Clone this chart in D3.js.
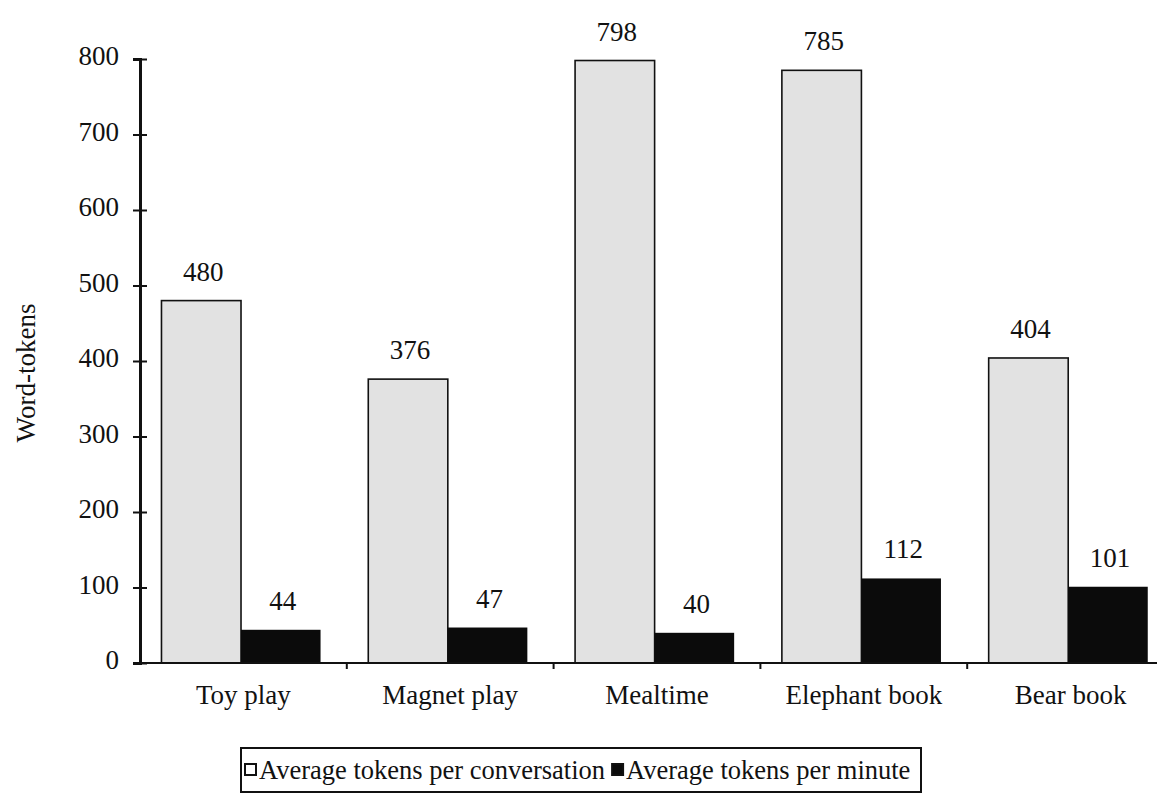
<!DOCTYPE html>
<head>
  <meta charset="utf-8">
  <script src="https://d3js.org/d3.v7.min.js"></script>
  <style>
    body { margin:0; background:#fff; }
    text { font-family: "Liberation Serif", "Times New Roman", serif; fill:#111; }
  </style>
</head>
<body>
<script>
  var width = 1157;
  var height = 794;

  // data
  var categories = ["Toy play", "Magnet play", "Mealtime", "Elephant book", "Bear book"];
  var seriesNames = ["Average tokens per conversation", "Average tokens per minute"];
  var perConversation = [480, 376, 798, 785, 404];
  var perMinute = [44, 47, 40, 112, 101];
  var yTicks = [0, 100, 200, 300, 400, 500, 600, 700, 800];

  var fills = ["#e2e2e2", "#0b0b0b"];

  var svg = d3.select("body").append("svg")
    .attr("width", width)
    .attr("height", height);

  var axisX = 140;
  var step = 206.8;

  var x0 = d3.scaleBand()
    .domain(categories)
    .range([axisX, axisX + step * categories.length]);

  var x1 = d3.scaleBand()
    .domain(seriesNames)
    .range([0, x0.bandwidth()])
    .paddingInner(0)
    .paddingOuter(0.3)
    .align(0.45);

  var y = d3.scaleLinear()
    .domain([0, 800])
    .range([663, 59]);

  var rows = categories.map(function(c, i){
    return { cat: c, vals: [perConversation[i], perMinute[i]] };
  });

  // bars
  var groups = svg.selectAll(".grp")
    .data(rows)
    .enter()
    .append("g")
    .attr("class", "grp")
    .attr("transform", function(d){ return "translate(" + x0(d.cat) + ",0)"; });

  groups.selectAll("rect")
    .data(function(d){ return d.vals.map(function(v, j){ return { name: seriesNames[j], v: v, j: j }; }); })
    .enter()
    .append("rect")
    .attr("x", function(d){ return x1(d.name); })
    .attr("y", function(d){ return y(d.v); })
    .attr("width", x1.bandwidth())
    .attr("height", function(d){ return y(0) - y(d.v); })
    .attr("fill", function(d){ return fills[d.j]; })
    .attr("stroke", function(d){ return d.j === 0 ? "#111" : "none"; })
    .attr("stroke-width", 1.6);

  groups.selectAll(".val")
    .data(function(d){ return d.vals.map(function(v, j){ return { name: seriesNames[j], v: v }; }); })
    .enter()
    .append("text")
    .attr("class", "val")
    .attr("x", function(d){ return x1(d.name) + x1.bandwidth() / 2 + 2; })
    .attr("y", function(d){ return y(d.v) - 20; })
    .attr("text-anchor", "middle")
    .style("font-size", "27px")
    .text(function(d){ return d.v; });

  // y axis
  var yAxis = d3.axisLeft(y).tickValues(yTicks).tickSize(7).tickPadding(14);
  var yG = svg.append("g")
    .attr("transform", "translate(" + axisX + ",0)")
    .call(yAxis);
  yG.select(".domain").attr("stroke", "#111").attr("stroke-width", 3);
  yG.selectAll(".tick line").attr("x1", 7).attr("x2", -7).attr("stroke", "#111").attr("stroke-width", 2);
  yG.selectAll(".tick text")
    .attr("dy", "0.22em")
    .style("font-size", "27px")
    .style("font-family", "'Liberation Serif', serif")
    .attr("fill", "#111");

  // x axis
  var xAxis = d3.axisBottom(x0).tickSize(0).tickPadding(22);
  var xG = svg.append("g")
    .attr("transform", "translate(0," + y(0) + ")")
    .call(xAxis);
  xG.select(".domain").remove();
  xG.selectAll(".tick text")
    .style("font-size", "27px")
    .style("font-family", "'Liberation Serif', serif")
    .attr("fill", "#111");

  xG.append("line")
    .attr("x1", axisX).attr("x2", width)
    .attr("y1", 0).attr("y2", 0)
    .attr("stroke", "#111").attr("stroke-width", 2);

  xG.selectAll(".sep")
    .data(categories.slice(1))
    .enter()
    .append("line")
    .attr("class", "sep")
    .attr("x1", function(d){ return x0(d); })
    .attr("x2", function(d){ return x0(d); })
    .attr("y1", 0).attr("y2", 6)
    .attr("stroke", "#111").attr("stroke-width", 2);

  // y label
  svg.append("text")
    .attr("transform", "translate(35,373) rotate(-90)")
    .attr("text-anchor", "middle")
    .style("font-size", "27px")
    .text("Word-tokens");

  // legend
  var legend = svg.append("g");
  legend.append("rect")
    .attr("x", 241).attr("y", 748)
    .attr("width", 680).attr("height", 44)
    .attr("fill", "none").attr("stroke", "#111").attr("stroke-width", 2);

  var lx = 245;
  seriesNames.forEach(function(name, i){
    legend.append("rect")
      .attr("x", lx).attr("y", 764)
      .attr("width", 11).attr("height", 11)
      .attr("fill", i === 0 ? "#fff" : fills[1])
      .attr("stroke", "#111").attr("stroke-width", 2);
    var t = legend.append("text")
      .attr("x", lx + 14).attr("y", 779)
      .style("font-size", "26.5px")
      .text(name);
    lx = lx + 14 + t.node().getComputedTextLength() + 7;
  });
</script>
</body>
